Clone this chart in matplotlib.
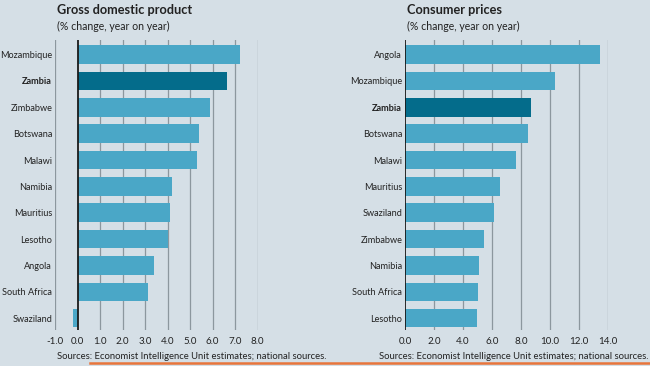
import matplotlib.pyplot as plt
from matplotlib.lines import Line2D

# GDP, % change year on year
gdp_countries = ["Mozambique", "Zambia", "Zimbabwe", "Botswana", "Malawi", "Namibia",
                 "Mauritius", "Lesotho", "Angola", "South Africa", "Swaziland"]
gdp_values = [7.2, 6.65, 5.9, 5.38, 5.32, 4.19, 4.12, 4.01, 3.38, 3.11, -0.2]
gdp_ticks = [-1, 0, 1, 2, 3, 4, 5, 6, 7, 8]

# consumer prices, % change year on year
cpi_countries = ["Angola", "Mozambique", "Zambia", "Botswana", "Malawi", "Mauritius",
                 "Swaziland", "Zimbabwe", "Namibia", "South Africa", "Lesotho"]
cpi_values = [13.47, 10.37, 8.69, 8.46, 7.66, 6.53, 6.14, 5.47, 5.1, 5.05, 5.0]
cpi_ticks = [0, 2, 4, 6, 8, 10, 12, 14]

highlight = "Zambia"

BG = "#d5dfe6"
BAR = "#4aa7c7"
BAR_HI = "#046c8b"
GRID = "#8c979e"
TXT = "#222222"

plt.rcParams['font.family'] = ['Lato', 'DejaVu Sans']

fig = plt.figure(figsize=(6.5, 3.66), dpi=100, facecolor=BG)


def panel(rect, names, vals, ticks, title):
    ax = fig.add_axes(rect)
    ax.set_facecolor(BG)
    ys = range(len(names))
    cols = [BAR_HI if n == highlight else BAR for n in names]
    ax.barh(ys, vals, height=0.7, color=cols, zorder=3)
    for t in ticks:
        if t == 0:
            ax.axvline(t, color="#1a1a1a", lw=1.3, zorder=4)
        else:
            ax.axvline(t, color=GRID, lw=0.9, zorder=1)
    ax.set_xlim(ticks[0], ticks[-1])
    ax.set_ylim(len(names) - 0.55, -0.55)
    ax.set_xticks(ticks)
    ax.set_xticklabels([f"{t:.1f}" for t in ticks], fontsize=7, color=TXT)
    ax.set_yticks(list(ys))
    ax.set_yticklabels(names, fontsize=6.6, color=TXT)
    for lab in ax.get_yticklabels():
        if lab.get_text() == highlight:
            lab.set_fontweight("bold")
    ax.tick_params(axis="y", length=0, pad=2)
    ax.tick_params(axis="x", length=0, pad=5)
    for s in ax.spines.values():
        s.set_visible(False)
    x0 = rect[0] + 0.003
    fig.text(x0, 0.988, title, fontsize=9.2, fontweight="bold", color=TXT, va="top")
    fig.text(x0, 0.943, "(% change, year on year)", fontsize=7.6, color=TXT, va="top")
    return ax


panel([0.0846, 0.0984, 0.3118, 0.792], gdp_countries, gdp_values, gdp_ticks,
      "Gross domestic product")
panel([0.623, 0.0984, 0.3123, 0.792], cpi_countries, cpi_values, cpi_ticks,
      "Consumer prices")

src = "Sources: Economist Intelligence Unit estimates; national sources."
fig.text(0.088, 0.027, src, fontsize=6.8, color=TXT, va="center")
fig.text(0.997, 0.027, src, fontsize=6.8, color=TXT, va="center", ha="right")

fig.add_artist(Line2D([0.138, 1.0], [0.008, 0.008], color="#e8753c", lw=1.8))

fig.savefig("out.png", dpi=100, facecolor=BG)
